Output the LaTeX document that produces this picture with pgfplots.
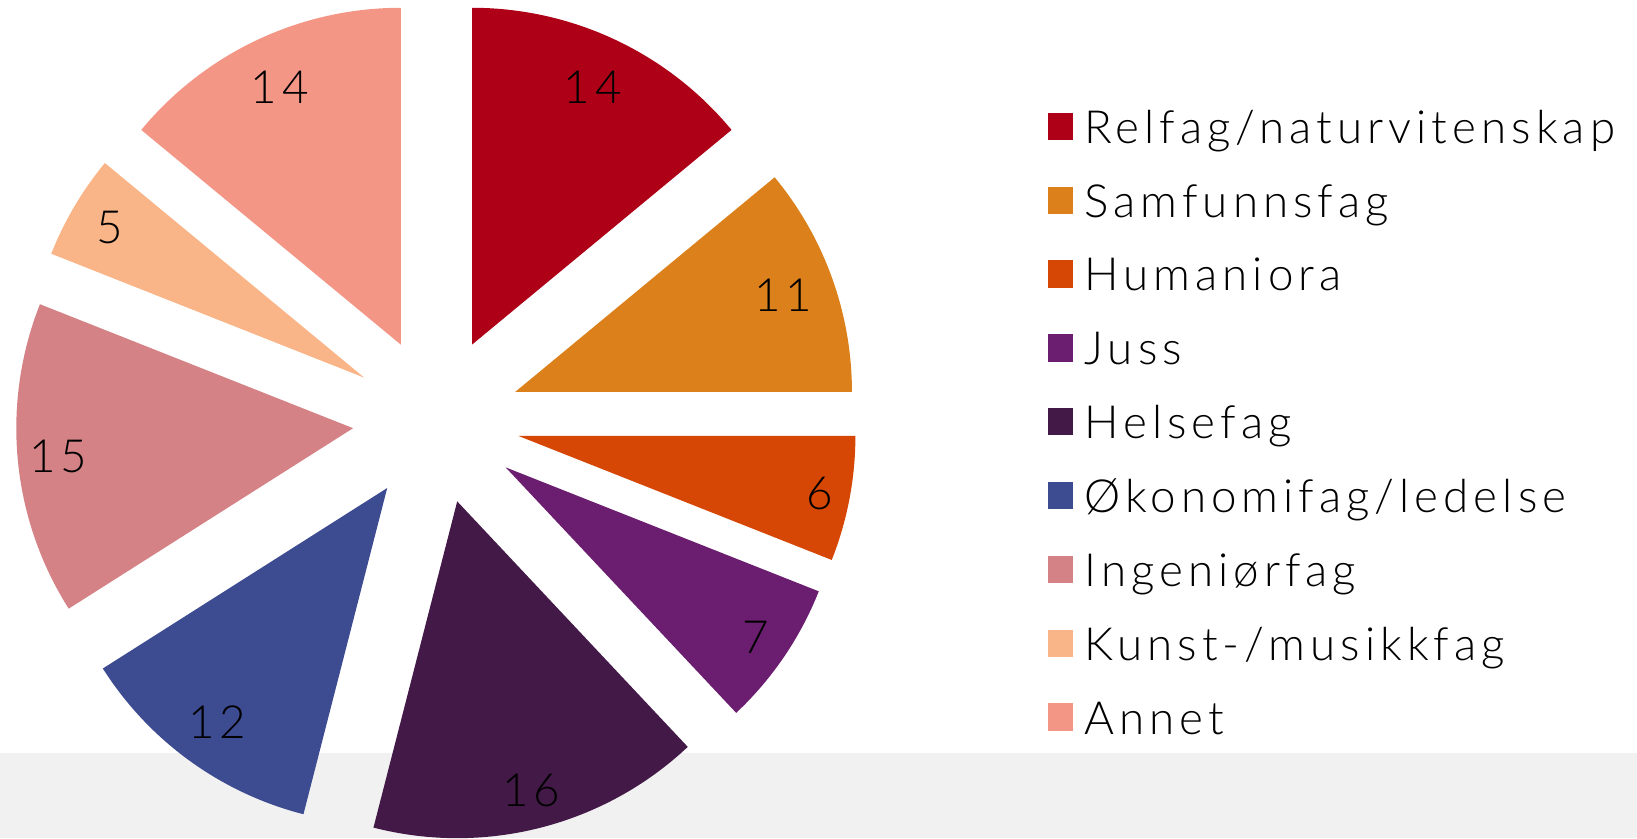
\documentclass[border=0pt]{standalone}
\usepackage{fontspec}
\setmainfont{Lato Light}[LetterSpace=11]
\usepackage{pgfplots}
\usepackage{pgfplotstable}
\pgfplotsset{compat=1.18}
\definecolor{c0}{HTML}{AE0016}
\definecolor{c1}{HTML}{DB801A}
\definecolor{c2}{HTML}{D64605}
\definecolor{c3}{HTML}{6B1D6F}
\definecolor{c4}{HTML}{421947}
\definecolor{c5}{HTML}{3D4B91}
\definecolor{c6}{HTML}{D48286}
\definecolor{c7}{HTML}{F9B588}
\definecolor{c8}{HTML}{F39686}
\definecolor{band}{HTML}{F1F1F1}
% value = share in percent; labr = distance of the value label from the slice tip
\pgfplotstableread{
value labr
14 284
11 285
6 307
7 302
16 298
12 289
15 296
5 296
14 284
}\pietable
\def\cum{0}
\pgfplotsforeachungrouped \i in {0,...,8}{%
 \pgfplotstablegetelem{\i}{value}\of\pietable
 \edef\pvval{\pgfplotsretval}%
 \pgfplotstablegetelem{\i}{labr}\of\pietable
 \edef\plr{\pgfplotsretval}%
 \pgfmathsetmacro\pA{90-3.6*\cum}%
 \pgfmathsetmacro\pB{90-3.6*(\cum+\pvval)}%
 \pgfmathsetmacro\pM{(\pA+\pB)/2}%
 \pgfmathsetmacro\pL{83.7+\plr}%
 \expandafter\xdef\csname pa\i\endcsname{\pA}%
 \expandafter\xdef\csname pb\i\endcsname{\pB}%
 \expandafter\xdef\csname pm\i\endcsname{\pM}%
 \expandafter\xdef\csname pl\i\endcsname{\pL}%
 \expandafter\xdef\csname pv\i\endcsname{\pvval}%
 \pgfmathsetmacro\cum{\cum+\pvval}%
}
\begin{document}
\begin{tikzpicture}
\begin{axis}[
  x=0.01cm, y=0.01cm,
  xmin=-436.4, xmax=1200.6, ymin=-417.7, ymax=420.3,
  hide axis, clip=false,
  legend style={draw=none, fill=none, at={(0.6402,0.8696)}, anchor=north west,
    inner sep=0pt, outer sep=0pt, font=\fontsize{13}{15}\selectfont,
    row sep=0.298cm,
    nodes={inner sep=0pt, text height=0.34cm, text depth=0.1cm},
    cells={anchor=base west},
    /tikz/every odd column/.append style={column sep=0.12cm}},
  legend image code/.code={\fill[#1] (0cm,0.033cm) rectangle (0.245cm,0.306cm);},
]
\path (axis cs:-436.4,-417.7) rectangle (axis cs:1200.6,420.3);
\fill[band] (axis cs:-436.4,-417.7) rectangle (axis cs:1200.6,-332.7);
\pgfplotsinvokeforeach{0,...,8}{
  \fill[c#1, overlay] (axis cs:{83.7*cos(\csname pm#1\endcsname)},{83.7*sin(\csname pm#1\endcsname)})
     -- ++(\csname pa#1\endcsname:3.366cm)
     arc[start angle=\csname pa#1\endcsname, end angle=\csname pb#1\endcsname, radius=3.366cm]
     -- cycle;
  \node[font=\fontsize{13}{15}\selectfont, inner sep=0pt, overlay]
     at (axis cs:{\csname pl#1\endcsname*cos(\csname pm#1\endcsname)},{\csname pl#1\endcsname*sin(\csname pm#1\endcsname)})
     {\csname pv#1\endcsname};
}
\addlegendimage{fill=c0, draw=none}\addlegendentry{Relfag/naturvitenskap}
\addlegendimage{fill=c1, draw=none}\addlegendentry{Samfunnsfag}
\addlegendimage{fill=c2, draw=none}\addlegendentry{Humaniora}
\addlegendimage{fill=c3, draw=none}\addlegendentry{Juss}
\addlegendimage{fill=c4, draw=none}\addlegendentry{Helsefag}
\addlegendimage{fill=c5, draw=none}\addlegendentry{Økonomifag/ledelse}
\addlegendimage{fill=c6, draw=none}\addlegendentry{Ingeniørfag}
\addlegendimage{fill=c7, draw=none}\addlegendentry{Kunst-/musikkfag}
\addlegendimage{fill=c8, draw=none}\addlegendentry{Annet}
\end{axis}
\end{tikzpicture}
\end{document}
